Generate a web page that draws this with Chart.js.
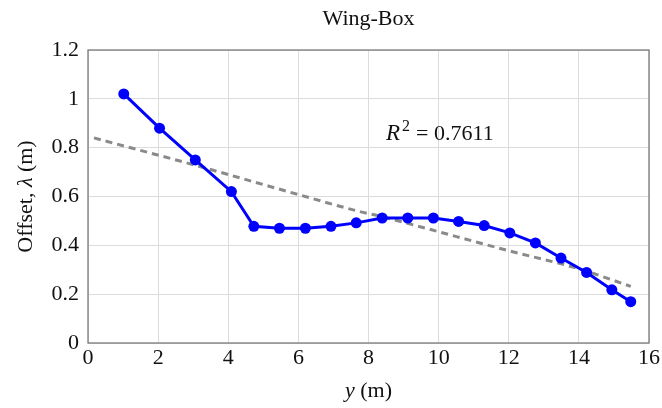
<!DOCTYPE html>
<html>
<head>
<meta charset="utf-8">
<script src="https://cdn.jsdelivr.net/npm/chart.js@4"></script>
<style>
  html, body { margin: 0; padding: 0; background: #fff; }
  #wrap { width: 662px; height: 408px; }
</style>
</head>
<body>
<div id="wrap"><canvas id="myChart" width="662" height="408"></canvas></div>
<script>
// spanwise stations and offsets of the wing-box
const spanY = [1.02, 2.04, 3.06, 4.09, 4.73, 5.46, 6.2, 6.93, 7.65, 8.39, 9.12, 9.85, 10.57, 11.3, 12.03, 12.76, 13.49, 14.22, 14.94, 15.48];
const offset = [1.02, 0.88, 0.75, 0.62, 0.478, 0.47, 0.47, 0.478, 0.492, 0.512, 0.512, 0.512, 0.498, 0.481, 0.451, 0.41, 0.348, 0.289, 0.218, 0.169];

// fitted trend
const fitY = [0.17, 3.06, 6, 7.73, 8.3, 12, 13.97, 15.48];
const fitOffset = [0.84, 0.728, 0.608, 0.539, 0.52, 0.378, 0.305, 0.232];

const xTicks = [0, 2, 4, 6, 8, 10, 12, 14, 16];
const yTicks = [0, 0.2, 0.4, 0.6, 0.8, 1, 1.2];
const rSquared = "0.7611";
const titleText = "Wing-Box";

const serif = "'Liberation Serif', 'DejaVu Serif', serif";
const fs = 22;

const toPoints = (xs, ys) => xs.map((x, i) => ({ x: x, y: ys[i] }));

// draws a run of [text, style] pieces starting at x
const drawRun = (ctx, parts, x, y) => {
  parts.forEach(p => {
    ctx.font = p[1] + fs + "px " + serif;
    ctx.fillText(p[0], x, y);
    x += ctx.measureText(p[0]).width;
  });
};
const runWidth = (ctx, parts) => parts.reduce((w, p) => {
  ctx.font = p[1] + fs + "px " + serif;
  return w + ctx.measureText(p[0]).width;
}, 0);

// frame, title over the plot area, axis titles with italic symbols, R^2 note
const extras = {
  id: "extras",
  afterDraw(chart) {
    const { ctx, chartArea: a, scales } = chart;
    const midX = (a.left + a.right) / 2;
    ctx.save();
    ctx.strokeStyle = "#7a7a7a";
    ctx.lineWidth = 1.3;
    ctx.strokeRect(a.left, a.top, a.right - a.left, a.bottom - a.top);

    ctx.fillStyle = "#111";
    ctx.textBaseline = "alphabetic";

    ctx.font = fs + "px " + serif;
    ctx.textAlign = "center";
    ctx.fillText(titleText, midX, 25);
    ctx.textAlign = "left";

    // x title: y (m)
    const xt = [["y", "italic "], [" (m)", ""]];
    drawRun(ctx, xt, midX - runWidth(ctx, xt) / 2, 397);

    // y title: Offset, λ (m)
    const yt = [["Offset, ", ""], ["λ", "italic "], [" (m)", ""]];
    ctx.translate(32, (a.top + a.bottom) / 2);
    ctx.rotate(-Math.PI / 2);
    drawRun(ctx, yt, -runWidth(ctx, yt) / 2, 0);
    ctx.setTransform(1, 0, 0, 1, 0, 0);

    // R^2 = value
    const rx = scales.x.getPixelForValue(8.5);
    const ry = scales.y.getPixelForValue(0.833);
    ctx.font = "italic 23px " + serif;
    ctx.fillText("R", rx, ry);
    ctx.font = "16px " + serif;
    ctx.fillText("2", rx + 16, ry - 9);
    ctx.font = fs + "px " + serif;
    ctx.fillText("=", rx + 30, ry);
    ctx.fillText(rSquared, rx + 48, ry);
    ctx.restore();
  }
};

new Chart(document.getElementById("myChart"), {
  type: "scatter",
  data: {
    datasets: [
      {
        label: "Offset",
        data: toPoints(spanY, offset),
        showLine: true,
        borderColor: "#0000ff",
        backgroundColor: "#0000ff",
        borderWidth: 3,
        pointRadius: 5.5,
        pointHoverRadius: 5.5,
        pointBorderWidth: 0,
      },
      {
        label: "Fit",
        data: toPoints(fitY, fitOffset),
        showLine: true,
        borderColor: "#8a8a8a",
        borderWidth: 3,
        borderDash: [7, 5],
        pointRadius: 0,
        cubicInterpolationMode: "monotone",
      },
    ],
  },
  options: {
    responsive: false,
    animation: false,
    layout: { padding: { top: 50, right: 11, left: 0, bottom: 0 } },
    plugins: {
      legend: { display: false },
      tooltip: { enabled: false },
      title: { display: false },
    },
    scales: {
      x: {
        type: "linear",
        min: 0,
        max: 16,
        afterFit: (s) => { s.height = 65; },
        afterBuildTicks: (s) => { s.ticks = xTicks.map(v => ({ value: v })); },
        grid: { color: "#dcdcdc", lineWidth: 1, tickLength: 0 },
        border: { display: false },
        ticks: {
          color: "#111",
          padding: 2,
          maxRotation: 0,
          font: { family: serif, size: fs },
        },
      },
      y: {
        min: 0,
        max: 1.2,
        afterFit: (s) => { s.width = 88; },
        afterBuildTicks: (s) => { s.ticks = yTicks.map(v => ({ value: v })); },
        grid: { color: "#dcdcdc", lineWidth: 1, tickLength: 0 },
        border: { display: false },
        ticks: {
          color: "#111",
          padding: 9,
          font: { family: serif, size: fs },
          callback: (v) => String(v),
        },
      },
    },
  },
  plugins: [extras],
});
</script>
</body>
</html>
